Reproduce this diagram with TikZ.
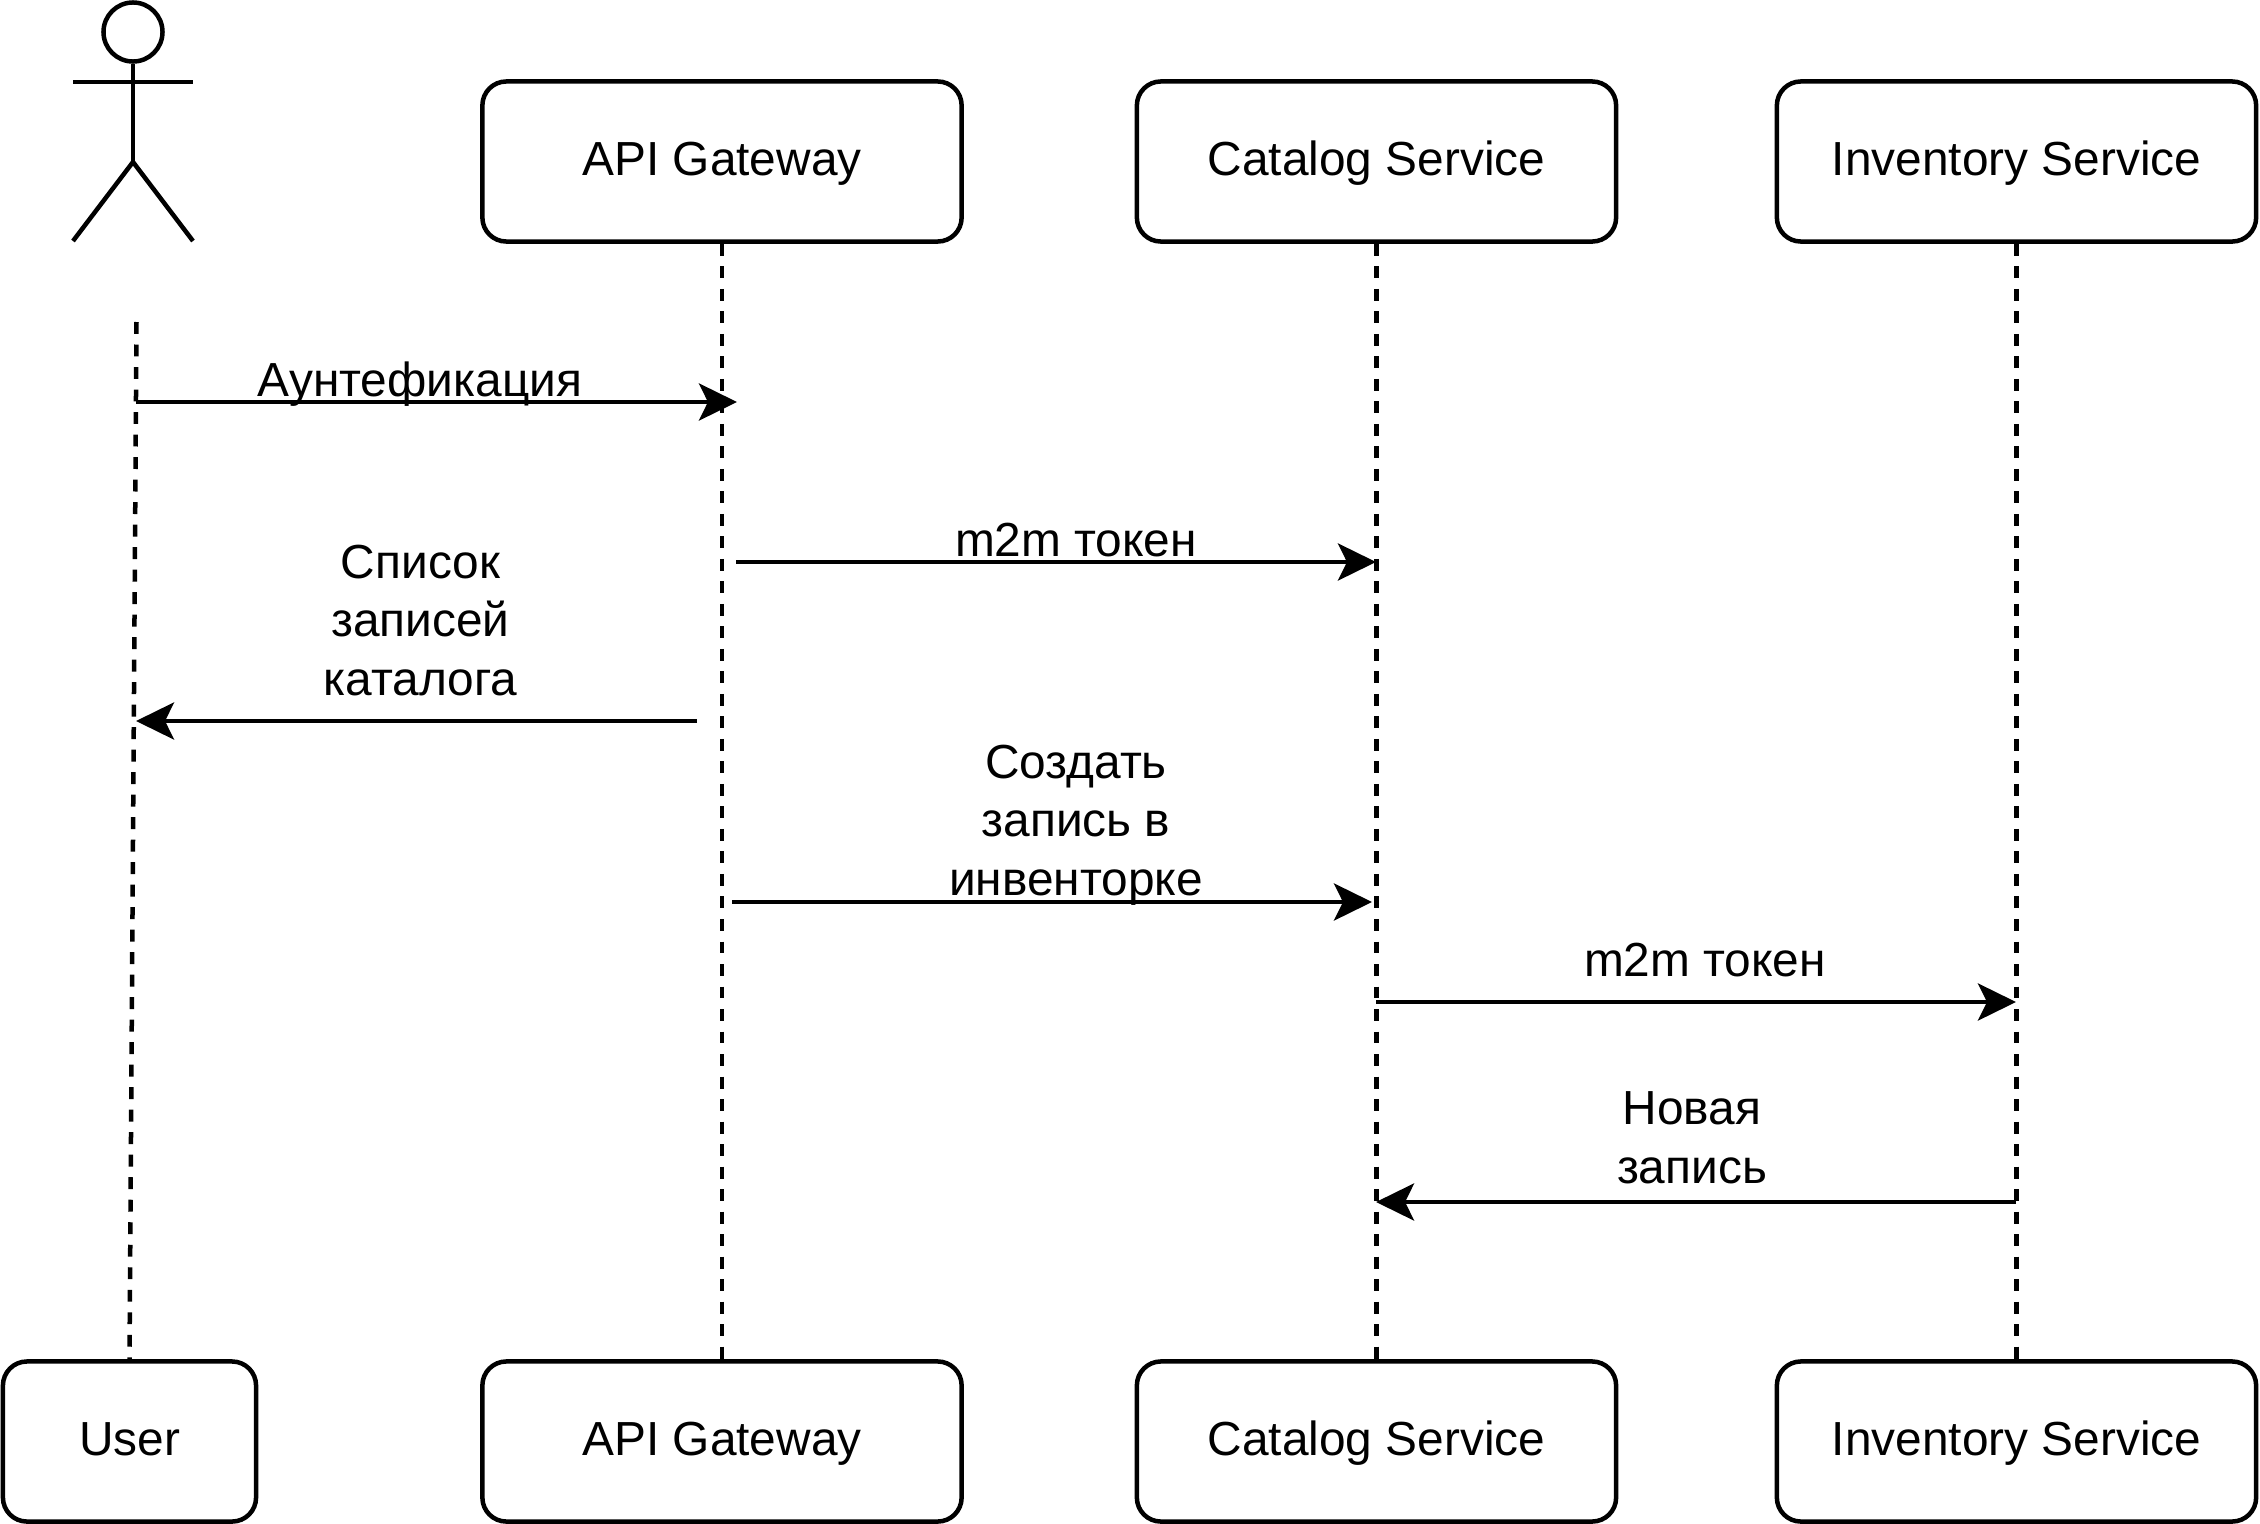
\documentclass[tikz,border=0pt]{standalone}
\usepackage{fontspec}
\setmainfont{Liberation Sans}
\usetikzlibrary{arrows.meta}
\tikzset{
  lane/.style={draw,line width=0.045cm,rounded corners=0.24cm,minimum width=4.79cm,minimum height=1.6cm,inner sep=0pt,text height=0.37cm,text depth=0.10cm,font=\fontsize{13.6}{16.5}\selectfont},
  msg/.style={anchor=base,align=center,inner sep=0pt,font=\fontsize{13.6}{16.5}\selectfont},
  lifeline/.style={line width=0.045cm,dash pattern=on 3.4pt off 3pt},
  call/.style={line width=0.045cm,-{Stealth[length=0.38cm,width=0.37cm,inset=0.09cm]}},
  limb/.style={line width=0.045cm}
}
\begin{document}
\begin{tikzpicture}[x=0.01cm,y=-0.01cm]
\useasboundingbox (0,0) rectangle (2260,1524);
\node[draw,circle,line width=0.045cm,minimum size=0.59cm,inner sep=0pt] (head) at (133,32) {};
\coordinate (hip) at (133,162);
\coordinate (armL) at (73,82);
\coordinate (armR) at (193,82);
\coordinate (footL) at (73,241);
\coordinate (footR) at (193,241);
\draw[limb] (head.south) -- (hip);
\draw[limb] (armL) -- (armR);
\draw[limb] (footL) -- (hip) -- (footR);
\node[lane] (apiTop) at (722,161.5) {API Gateway};
\node[lane] (catalogTop) at (1376.5,161.5) {Catalog Service};
\node[lane] (inventoryTop) at (2016.5,161.5) {Inventory Service};
\node[lane,minimum width=2.53cm] (userBottom) at (129.5,1441.5) {User};
\node[lane] (apiBottom) at (722,1441.5) {API Gateway};
\node[lane] (catalogBottom) at (1376.5,1441.5) {Catalog Service};
\node[lane] (inventoryBottom) at (2016.5,1441.5) {Inventory Service};
\coordinate (userTop) at (136.5,322);
\draw[lifeline] (userTop) -- (userBottom.north);
\draw[lifeline] (apiTop.south) -- (apiBottom.north);
\draw[lifeline] (catalogTop.south) -- (catalogBottom.north);
\draw[lifeline] (inventoryTop.south) -- (inventoryBottom.north);
\coordinate (authFrom) at (136,402);
\coordinate (authTo) at (737,402);
\coordinate (tokenFrom) at (736,562);
\coordinate (tokenTo) at (1376,562);
\coordinate (listFrom) at (697,721);
\coordinate (listTo) at (136,721);
\coordinate (createFrom) at (732,902);
\coordinate (createTo) at (1372,902);
\coordinate (tokenNextFrom) at (1376,1002);
\coordinate (tokenNextTo) at (2016,1002);
\coordinate (recordFrom) at (2016,1202);
\coordinate (recordTo) at (1376,1202);
\draw[call] (authFrom) -- (authTo);
\draw[call] (tokenFrom) -- (tokenTo);
\draw[call] (listFrom) -- (listTo);
\draw[call] (createFrom) -- (createTo);
\draw[call] (tokenNextFrom) -- (tokenNextTo);
\draw[call] (recordFrom) -- (recordTo);
\node[msg] (authText) at (420,396) {Аунтефикация};
\node[msg] (tokenText) at (1076,556) {m2m токен};
\node[msg] (listText) at (420.5,695) {Список\\записей\\каталога};
\node[msg] (createText) at (1076,895) {Создать\\запись в\\инвенторке};
\node[msg] (tokenNextText) at (1705,976) {m2m токен};
\node[msg] (recordText) at (1692,1183) {Новая\\запись};
\end{tikzpicture}
\end{document}
